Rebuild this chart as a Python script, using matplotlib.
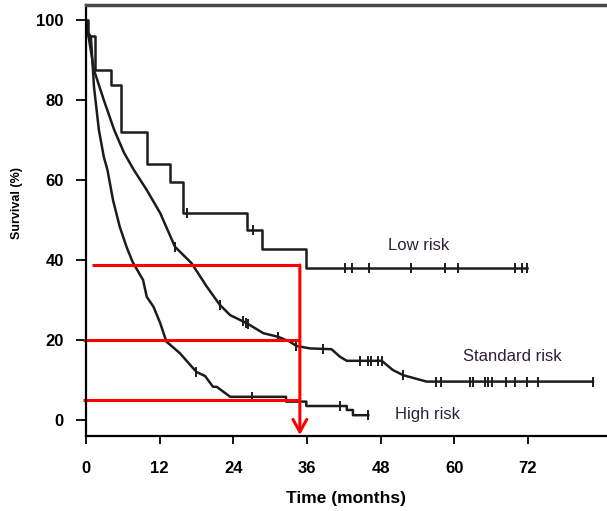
import matplotlib
matplotlib.use("Agg")
import matplotlib.pyplot as plt
import numpy as np

plt.rcParams["font.family"] = ["Liberation Sans", "DejaVu Sans"]

# Low risk (Kaplan-Meier steps, months / survival %)
low_t = [0, 0.3, 1.5, 4.0, 5.7, 10.0, 13.7, 15.8, 26.2, 28.6, 35.8, 71.8]
low_s = [100, 96, 87.5, 83.8, 72.1, 64.0, 59.6, 51.7, 47.5, 42.7, 38.0, 38.0]
low_cens = [16.4, 27.2, 42.2, 43.3, 46.1, 53.0, 58.5, 60.6, 69.9, 71.0, 71.8]

# Standard risk (vertices)
std_t = [0, 0.4, 1.3, 2.9, 4.6, 6.2, 7.8, 9.9, 12.1, 14.5, 17.2, 19.7, 21.8,
         23.5, 26.2, 28.9, 31.3, 33.2, 34.3, 36.5, 40.0, 41.4, 42.5, 48.2,
         50.0, 51.7, 55.5, 82.6]
std_s = [100, 96, 87.5, 80, 72.5, 66.8, 62.5, 57.5, 51.7, 43.3, 39.2, 33.3, 28.8,
         26.2, 24.2, 21.7, 20.8, 19.6, 18.5, 17.9, 17.7, 15.8, 14.8, 14.8,
         12.5, 11.2, 9.6, 9.6]
std_cens = [14.5, 21.8, 25.6, 26.0, 26.4, 31.3, 34.3, 38.6, 44.6, 46.0, 46.5,
            47.6, 48.2, 51.7, 57.1, 57.9, 62.5, 63.1, 65.0, 65.5, 66.1, 68.5,
            69.9, 71.8, 73.7, 82.6]

# High risk
high_t = [0, 0.3, 0.8, 1.3, 2.1, 2.9, 3.5, 4.4, 5.5, 6.6, 7.6, 9.3, 9.9, 11.0,
          12.1, 13.1, 15.3, 18.0, 19.4, 20.7, 21.3, 23.5, 32.6, 32.6, 35.9,
          35.9, 42.5, 42.5, 43.5, 43.5, 46.0]
high_s = [100, 97, 95.8, 83.3, 72.5, 65.8, 62.5, 55, 48.3, 43.3, 39.5, 35, 30.8,
          28.3, 24.2, 19.6, 16.7, 12.0, 11.0, 8.3, 8.3, 5.8, 5.8, 4.6, 4.6,
          3.5, 3.5, 2.5, 2.5, 1.2, 1.2]
high_cens = [18.0, 27.0, 41.4, 46.0]

# red reading lines
ref_levels = [38.75, 20, 5]
ref_starts = [1.0, -0.5, -0.5]
ref_time = 34.85

x_ticks = [0, 12, 24, 36, 48, 60, 72]
y_ticks = [0, 20, 40, 60, 80, 100]

fig = plt.figure(figsize=(6.07, 5.11), dpi=100)
ax = fig.add_axes([86 / 607, 1 - 436 / 511, 521 / 607, 431 / 511])

ink = "#1c1c1c"
lw = 1.8
ax.step(low_t, low_s, where="post", color=ink, lw=lw)
idx = np.searchsorted(low_t, low_cens, side="right") - 1
ax.plot(low_cens, np.array(low_s)[idx], ls="none", marker="|", ms=7.5, mew=1.4, color=ink)

ax.plot(std_t, std_s, color=ink, lw=lw)
ax.plot(std_cens, np.interp(std_cens, std_t, std_s), ls="none", marker="|",
        ms=7.5, mew=1.4, color=ink)

ax.plot(high_t, high_s, color=ink, lw=lw)
ax.plot(high_cens, np.interp(high_cens, high_t, high_s), ls="none", marker="|",
        ms=7.5, mew=1.4, color=ink)

for lvl, x0 in zip(ref_levels, ref_starts):
    ax.plot([x0, ref_time], [lvl, lvl], color="#ff0000", lw=2.2, clip_on=False,
            solid_capstyle="butt")
ax.annotate("", xy=(ref_time, -3.75), xytext=(ref_time, ref_levels[0]),
            arrowprops=dict(arrowstyle="->,head_length=0.9,head_width=0.5",
                            color="#ff0000", lw=2.2, shrinkA=0, shrinkB=0),
            annotation_clip=False)

txt = "#2a2238"
ax.text(49.2, 43.75, "Low risk", fontsize=12, color=txt, va="center")
ax.text(61.4, 15.8, "Standard risk", fontsize=12, color=txt, va="center")
ax.text(50.3, 1.25, "High risk", fontsize=12, color=txt, va="center")

ax.set_xlim(0, 84.9)
ax.set_ylim(-4, 103.75)
ax.set_xticks(x_ticks)
ax.set_yticks(y_ticks)
ax.tick_params(axis="both", direction="out", width=1.3, colors="black")
ax.tick_params(axis="y", length=7, pad=9)
ax.tick_params(axis="x", length=6, pad=12)
for lab in ax.get_xticklabels() + ax.get_yticklabels():
    lab.set_fontsize(12)
    lab.set_fontweight("bold")

ax.spines["right"].set_visible(False)
ax.spines["top"].set_color("#4a4a4a")
ax.spines["top"].set_linewidth(2.5)
ax.spines["left"].set_linewidth(1.6)
ax.spines["bottom"].set_linewidth(1.6)

ax.set_xlabel("Time (months)", fontsize=12.5, fontweight="bold", labelpad=11)
fig.text(17 / 607, 1 - 203 / 511, "Survival (%)", rotation=90, fontsize=9,
         fontweight="bold", ha="center", va="center")

fig.savefig("out.png", dpi=100)
